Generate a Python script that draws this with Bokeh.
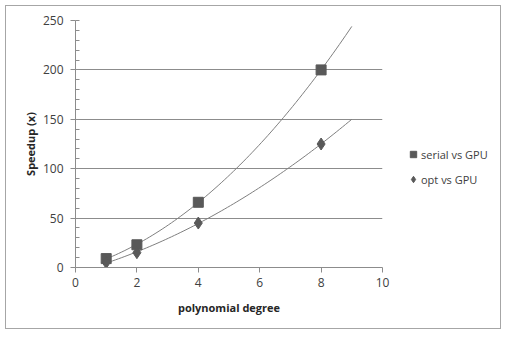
import numpy as np
from bokeh.plotting import figure
from bokeh.layouts import row
from bokeh.models import Legend, LegendItem, FixedTicker, Range1d
from bokeh.embed import file_html
from bokeh.resources import INLINE

degree = [1, 2, 4, 8]
serial_vs_gpu = [9, 23, 66, 200]
opt_vs_gpu = [5, 15, 45, 125]
series_names = ["serial vs GPU", "opt vs GPU"]
x_ticks = [0, 2, 4, 6, 8, 10]
y_ticks = [0, 50, 100, 150, 200, 250]

def poly_trend(xs, ys, x_end):
    coef = np.polyfit(xs, ys, 2)
    xx = np.linspace(xs[0], x_end, 80)
    return xx, np.polyval(coef, xx)

FONT = "Open Sans"
MARK = "#595959"
p = figure(width=386, height=322, output_backend="svg", toolbar_location=None,
           x_range=Range1d(0, 10), y_range=Range1d(0, 250),
           min_border_left=69, min_border_right=10, min_border_top=14, min_border_bottom=61)
p.outline_line_color = None
p.xgrid.grid_line_color = None
p.ygrid.grid_line_color = "#8c8c8c"
p.ygrid.ticker = FixedTicker(ticks=y_ticks)

p.xaxis.ticker = FixedTicker(ticks=x_ticks)
p.yaxis.ticker = FixedTicker(ticks=y_ticks, minor_ticks=list(range(0, 251, 10)))
for ax in (p.xaxis[0], p.yaxis[0]):
    ax.axis_line_color = "#8c8c8c"
    ax.major_tick_line_color = "#8c8c8c"
    ax.major_tick_out = 5
    ax.major_tick_in = 0
    ax.major_label_text_font = FONT
    ax.major_label_text_font_size = "12px"
    ax.major_label_text_color = "#404040"
    ax.axis_label_text_font = FONT
    ax.axis_label_text_font_size = "11px"
    ax.axis_label_text_font_style = "bold"
    ax.axis_label_text_color = "#262626"
p.xaxis.minor_tick_line_color = None
p.yaxis.minor_tick_line_color = "#8c8c8c"
p.yaxis.minor_tick_in = 4
p.yaxis.minor_tick_out = 0
p.yaxis.major_label_standoff = 7
p.xaxis.axis_label = "polynomial degree"
p.yaxis.axis_label = "Speedup (x)"
p.xaxis.axis_label_standoff = 10
p.yaxis.axis_label_standoff = 2

tx, ty = poly_trend(degree, serial_vs_gpu, 9)
p.line(tx, ty, line_color="#7f7f7f", line_width=1)
ox, oy = poly_trend(degree, opt_vs_gpu, 9)
p.line(ox, oy, line_color="#7f7f7f", line_width=1)

p.scatter(degree, serial_vs_gpu, marker="square", size=10, fill_color=MARK, line_color=MARK)
p.scatter(degree, opt_vs_gpu, marker="diamond", size=12, fill_color=MARK, line_color=MARK)

# legend panel (hidden proxy renderers carry the legend glyph styles)
lp = figure(width=108, height=322, output_backend="svg", toolbar_location=None,
            x_range=Range1d(0, 1), y_range=Range1d(0, 1),
            min_border_left=0, min_border_right=0, min_border_top=0, min_border_bottom=0)
lp.axis.visible = False
lp.grid.grid_line_color = None
lp.outline_line_color = None
k1 = lp.scatter(degree, serial_vs_gpu, marker="square", size=10, fill_color=MARK, line_color=MARK, visible=False)
k2 = lp.scatter(degree, opt_vs_gpu, marker="diamond", size=10, fill_color=MARK, line_color=MARK, visible=False)
legend = Legend(items=[LegendItem(label=series_names[0], renderers=[k1]),
                       LegendItem(label=series_names[1], renderers=[k2])],
                location=(13, 78), background_fill_alpha=0, border_line_color=None,
                inactive_fill_alpha=0,
                label_text_font=FONT, label_text_font_size="11px", label_text_color="#404040",
                glyph_width=16, glyph_height=20, label_standoff=0, spacing=5, padding=0, margin=0)
lp.add_layout(legend, "center")

layout = row(p, lp)
layout.styles = {"border": "1px solid #a6a6a6", "margin-left": "5px", "margin-top": "5px"}

open("out.html", "w").write(file_html(layout, INLINE))
